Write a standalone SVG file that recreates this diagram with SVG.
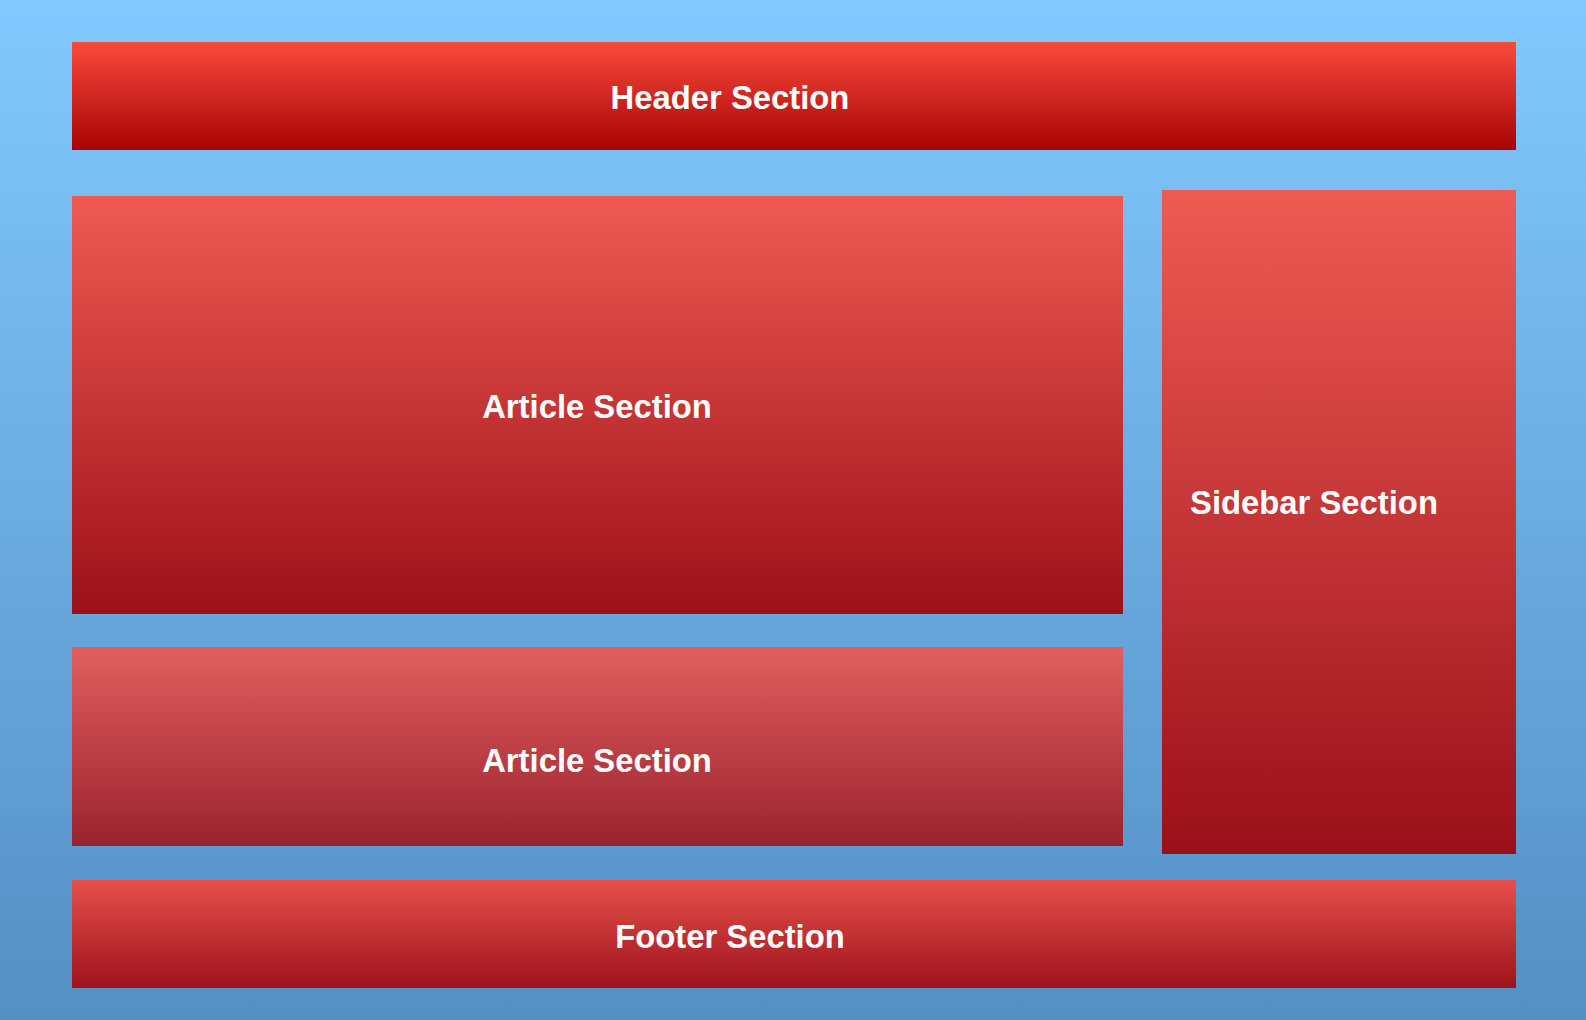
<svg xmlns="http://www.w3.org/2000/svg" width="1586" height="1020" viewBox="0 0 1586 1020">
<defs>
<linearGradient id="bg" x1="0" y1="0" x2="0" y2="1"><stop offset="0" stop-color="#81C9FE"/><stop offset="1" stop-color="#558FC4"/></linearGradient>
<linearGradient id="gHeader" x1="0" y1="0" x2="0" y2="1"><stop offset="0" stop-color="#FA4A3B"/><stop offset="1" stop-color="#A70404"/></linearGradient>
<linearGradient id="gArt1" x1="0" y1="0" x2="0" y2="1"><stop offset="0" stop-color="#EF5B53"/><stop offset="1" stop-color="#9C1019"/></linearGradient>
<linearGradient id="gArt2" x1="0" y1="0" x2="0" y2="1"><stop offset="0" stop-color="#E15F5F"/><stop offset="1" stop-color="#9A222E"/></linearGradient>
<linearGradient id="gSide" x1="0" y1="0" x2="0" y2="1"><stop offset="0" stop-color="#EE5B53"/><stop offset="1" stop-color="#9A101A"/></linearGradient>
<linearGradient id="gFoot" x1="0" y1="0" x2="0" y2="1"><stop offset="0" stop-color="#E6504B"/><stop offset="1" stop-color="#9E131C"/></linearGradient>
</defs>
<style>
.lbl{font-family:"Liberation Sans",Arial,sans-serif;font-weight:bold;font-size:32.8px;fill:#FFFFFF;text-anchor:middle}
</style>
<rect x="0" y="0" width="1586" height="1020" fill="url(#bg)"/>
<g id="header"><rect x="72" y="42" width="1444" height="108" fill="url(#gHeader)"/><text class="lbl" x="730" y="109">Header Section</text></g>
<g id="article1"><rect x="72" y="196" width="1051" height="418" fill="url(#gArt1)"/><text class="lbl" x="597" y="417.5">Article Section</text></g>
<g id="article2"><rect x="72" y="647" width="1051" height="199" fill="url(#gArt2)"/><text class="lbl" x="597" y="772">Article Section</text></g>
<g id="sidebar"><rect x="1162" y="190" width="354" height="664" fill="url(#gSide)"/><text class="lbl" x="1314" y="514">Sidebar Section</text></g>
<g id="footer"><rect x="72" y="880" width="1444" height="108" fill="url(#gFoot)"/><text class="lbl" x="730" y="947.5">Footer Section</text></g>
<g id="connectors"></g>
</svg>
